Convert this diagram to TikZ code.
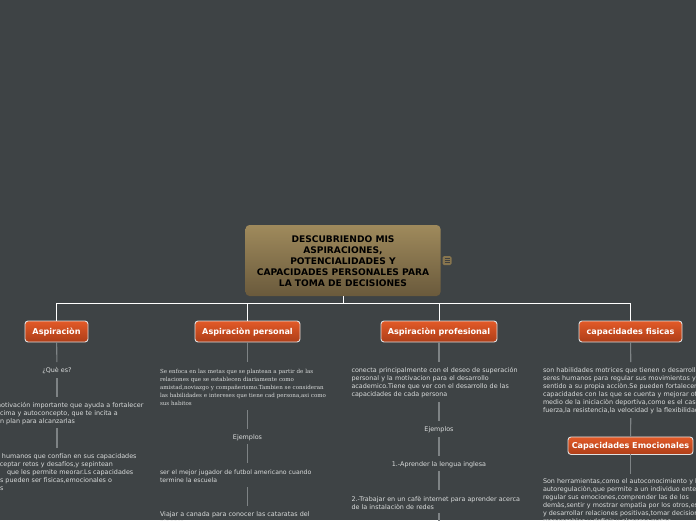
\documentclass[tikz,border=0pt]{standalone}
\usepackage{fontspec}
\setmainfont{DejaVu Sans}
\newfontfamily\serifcol{DejaVu Serif}
\definecolor{bgc}{HTML}{3E4345}
\definecolor{txtc}{HTML}{DADCDC}
\definecolor{linec}{HTML}{7E8385}
\definecolor{ttop}{HTML}{9F8A5C}
\definecolor{tbot}{HTML}{6A5A3C}
\definecolor{btop}{HTML}{E25A28}
\definecolor{bbot}{HTML}{AE3E18}
\newcommand{\dr}[1]{\raisebox{-0.8pt}[\height][\depth]{#1}}
\newcommand{\tl}[1]{\makebox[0pt][l]{\raisebox{-1pt}[\height][\depth]{#1}}\\}
\newcommand{\tle}[1]{\makebox[0pt][l]{\raisebox{-1pt}[\height][\depth]{#1}}}
\tikzset{
  x=1pt,y=-1pt,
  titlebox/.style={rounded corners=4pt,top color=ttop,bottom color=tbot,draw=none,text=black,
    font=\fontsize{9.1}{11}\selectfont\bfseries,align=center,inner sep=0pt,outer sep=0pt},
  branch/.style={rounded corners=3pt,top color=btop,bottom color=bbot,draw=white!88!black,line width=0.9pt,
    text=white,font=\fontsize{8.1}{10}\selectfont\bfseries,align=center,inner sep=0pt,outer sep=0pt},
  txt/.style={text=txtc,font=\fontsize{6.4}{8}\selectfont,align=left,inner xsep=0pt,inner ysep=0pt,outer sep=0pt},
  ctr/.style={txt,align=center},
  wire/.style={draw=white,line width=1pt},
  conn/.style={draw=linec,line width=1.1pt},
}
\begin{document}
\begin{tikzpicture}
\fill[bgc] (0,0) rectangle (696,520);
\useasboundingbox (0,0) rectangle (696,520);
\clip (0,0) rectangle (696,520);

\node[titlebox,minimum width=195pt,minimum height=71pt] (title) at (343,260.5) {\dr{DESCUBRIENDO MIS}\\\dr{ASPIRACIONES,}\\\dr{POTENCIALIDADES Y}\\\dr{CAPACIDADES PERSONALES PARA}\\\dr{LA TOMA DE DECISIONES}};
\node[rounded corners=1.5pt,fill=ttop!85!black,minimum width=9pt,minimum height=9pt,inner sep=0pt] (icon) at (447,260.5) {};
\foreach \yy in {258.3,260.5,262.7}{\draw[black!75,line width=0.7pt] (444.5,\yy) -- (449.5,\yy);}

% branches
\node[branch,minimum width=63pt,minimum height=21pt] (b1) at (56.5,331.5) {\dr{Aspiraciòn}};
\node[branch,minimum width=105pt,minimum height=21pt] (b2) at (247.5,331.5) {\dr{Aspiraciòn personal}};
\node[branch,minimum width=116pt,minimum height=21pt] (b3) at (439,331.5) {\dr{Aspiraciòn profesional}};
\node[branch,minimum width=103pt,minimum height=21pt] (b4) at (630.5,331.5) {\dr{capacidades fisicas}};
\node[branch,minimum width=125pt,minimum height=17.5pt] (b5) at (630.5,445.7) {\dr{Capacidades Emocionales}};

\draw[wire] (title.south) -- ++(0,7) coordinate (bus) -| (b1.north);
\draw[wire] (bus) -| (b2.north);
\draw[wire] (bus) -| (b3.north);
\draw[wire] (bus) -| (b4.north);

% column 1
\node[ctr,minimum height=16pt] (a1) at (57,370) {\dr{¿Què es?}};
\node[txt,text width=172pt,minimum height=31pt] (a2) at (57,412.5) {\tl{\hspace*{24pt}motivación importante que ayuda a fortalecer}\tl{\hspace*{29pt}cima y autoconcepto, que te incita a}\tle{\hspace*{25pt}un plan para alcanzarlas}};
\node[txt,text width=172pt,minimum height=46pt] (a3) at (57,470.5) {\tl{\hspace*{31pt}humanos que confían en sus capacidades}\tl{\hspace*{25pt}aceptar retos y desafíos,y sepintean}\tl{\hspace*{36pt}que les permite meorar.Ls capacidades}\tl{\hspace*{29pt}s pueden ser fìsicas,emocionales o}\tle{\hspace*{29pt}s}};
\draw[conn] (b1) -- (a1);
\draw[conn] (a1) -- (a2);
\draw[conn] (a2) -- (a3);

% column 2
\node[txt,text width=175pt,minimum height=48pt,font=\fontsize{5.55}{8}\selectfont\serifcol] (c1) at (247.5,386) {\tl{Se enfoca en las metas que se plantean a partir de las}\tl{relaciones que se establecen diariamente como}\tl{amistad,noviazgo y compañerismo.Tambien se consideran}\tl{las habilidades e intereses que tiene cad persona,asi como}\tle{sus habitos}};
\node[ctr,minimum height=15pt] (c2) at (247.5,436.5) {\dr{Ejemplos}};
\node[txt,text width=175pt,minimum height=24pt,font=\fontsize{6.15}{8}\selectfont] (c3) at (247.5,475) {\tl{ser el mejor jugador de futbol americano cuando}\tle{termine la escuela}};
\node[txt,text width=175pt,anchor=north] (c4) at (247.5,510.5) {\tl{Viajar a canada para conocer las cataratas del}\tle{niagara}};
\draw[conn] (b2) -- (c1);
\draw[conn] (c1) -- (c2);
\draw[conn] (c2) -- (c3);
\draw[conn] (c3) -- (247.5,506) coordinate (c4top);

% column 3
\node[txt,text width=175pt,minimum height=40pt] (d1) at (439,382) {\tl{conecta principalmente con el deseo de superación}\tl{personal y la motivacion para el desarrollo}\tl{academico.Tiene que ver con el desarrollo de las}\tle{capacidades de cada persona}};
\node[ctr,minimum height=16pt] (d2) at (439,429) {\dr{Ejemplos}};
\node[ctr,minimum height=15pt] (d3) at (439,463.5) {\dr{1.-Aprender la lengua inglesa}};
\node[txt,text width=175pt,minimum height=23pt] (d4) at (439,501.5) {\tl{2.-Trabajar en un cafè internet para aprender acerca}\tle{de la instalaciòn de redes}};
\coordinate (d5) at (439,530);
\draw[conn] (b3) -- (d1);
\draw[conn] (d1) -- (d2);
\draw[conn] (d2) -- (d3);
\draw[conn] (d3) -- (d4);
\draw[conn] (d4) -- (d5);

% column 4
\node[txt,text width=176pt,minimum height=56pt] (e1) at (631,390) {\tl{son habilidades motrices que tienen o desarrollan los}\tl{seres humanos para regular sus movimientos y dar}\tl{sentido a su propia acciòn.Se pueden fortalecer las}\tl{capacidades con las que se cuenta y mejorar otras por}\tl{medio de la iniciaciòn deportiva,como es el caso de la}\tle{fuerza,la resistencia,la velocidad y la flexibilidad}};
\node[txt,text width=176pt,anchor=north] (e2) at (631,478) {\tl{Son herramientas,como el autoconocimiento y la}\tl{autoregulaciòn,que permite a un individuo entender y}\tl{regular sus emociones,comprender las de los}\tl{demàs,sentir y mostrar empatìa por los otros,establecer}\tl{y desarrollar relaciones positivas,tomar decisiones}\tle{responsables y definir y alcanzar metas}};
\draw[conn] (b4) -- (e1);
\draw[conn] (e1) -- (b5);
\draw[conn] (b5.south) -- ++(0,19.5) coordinate (e2top);
\end{tikzpicture}
\end{document}
